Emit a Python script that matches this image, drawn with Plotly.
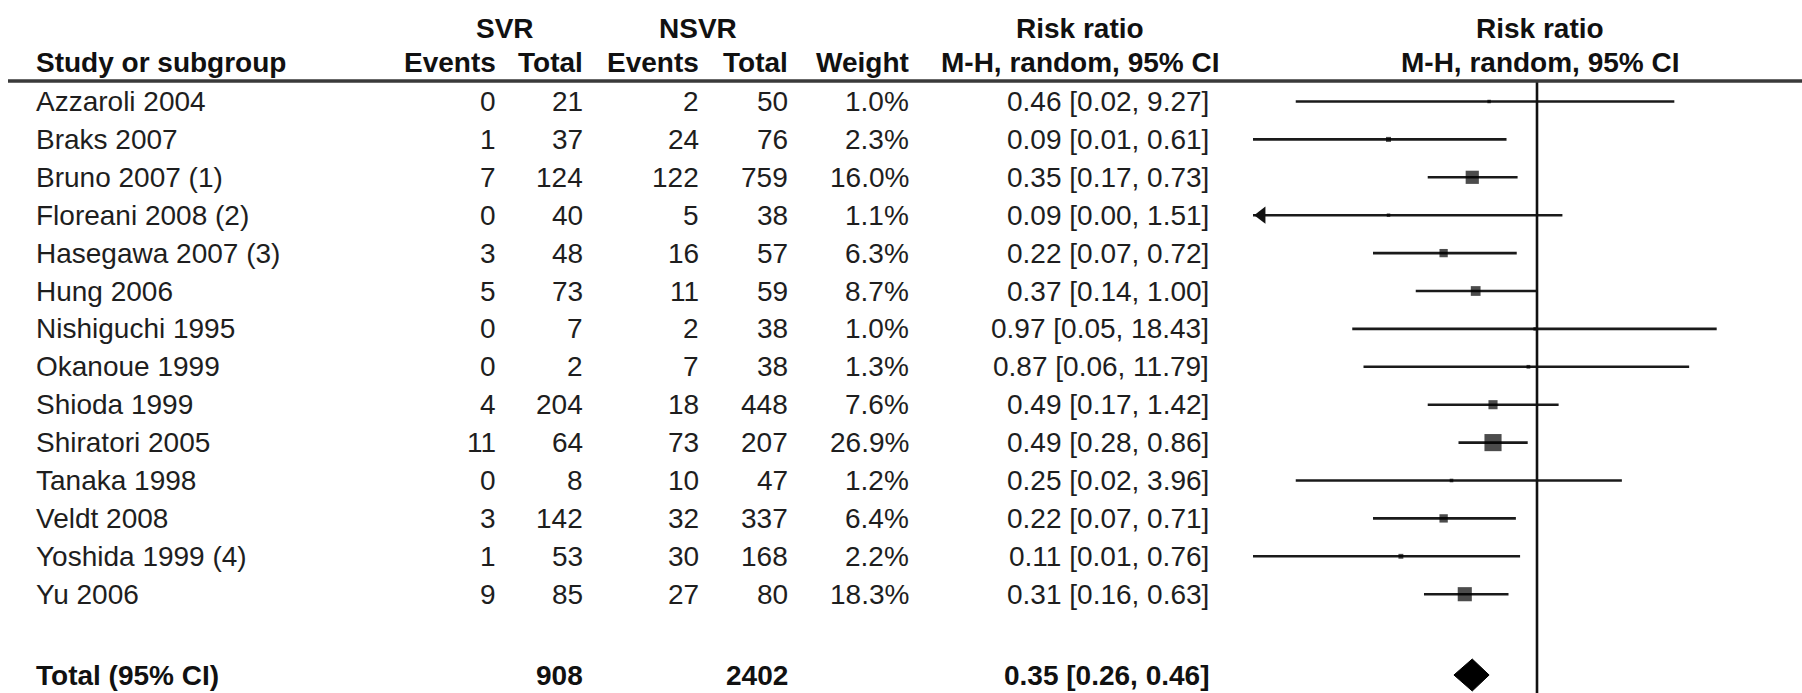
import numpy as np
import plotly.graph_objects as go

# ---- data -------------------------------------------------------------
studies = ["Azzaroli 2004", "Braks 2007", "Bruno 2007 (1)", "Floreani 2008 (2)",
           "Hasegawa 2007 (3)", "Hung 2006", "Nishiguchi 1995", "Okanoue 1999",
           "Shioda 1999", "Shiratori 2005", "Tanaka 1998", "Veldt 2008",
           "Yoshida 1999 (4)", "Yu 2006"]
svr_events = [0, 1, 7, 0, 3, 5, 0, 0, 4, 11, 0, 3, 1, 9]
svr_total = [21, 37, 124, 40, 48, 73, 7, 2, 204, 64, 8, 142, 53, 85]
nsvr_events = [2, 24, 122, 5, 16, 11, 2, 7, 18, 73, 10, 32, 30, 27]
nsvr_total = [50, 76, 759, 38, 57, 59, 38, 38, 448, 207, 47, 337, 168, 80]
weight = [1.0, 2.3, 16.0, 1.1, 6.3, 8.7, 1.0, 1.3, 7.6, 26.9, 1.2, 6.4, 2.2, 18.3]
rr = [0.46, 0.09, 0.35, 0.09, 0.22, 0.37, 0.97, 0.87, 0.49, 0.49, 0.25, 0.22, 0.11, 0.31]
ci_lo = [0.02, 0.01, 0.17, 0.00, 0.07, 0.14, 0.05, 0.06, 0.17, 0.28, 0.02, 0.07, 0.01, 0.16]
ci_hi = [9.27, 0.61, 0.73, 1.51, 0.72, 1.00, 18.43, 11.79, 1.42, 0.86, 3.96, 0.71, 0.76, 0.63]

total_label = "Total (95% CI)"
total_svr = 908
total_nsvr = 2402
total_rr = 0.35
total_lo = 0.26
total_hi = 0.46

axis_min = 0.01          # left end of the risk-ratio scale

# ---- layout constants (pixels) -----------------------------------------
W, H = 1802, 693
ROW0, ROW_H = 101.5, 37.9
TOTAL_Y = 675
HEAD1_Y, HEAD2_Y, RULE_Y = 28, 62, 81
FOREST_LEFT, NULL_X = 1253, 1537
PX_PER_DECADE = (NULL_X - FOREST_LEFT) / 2.0
FONT = "Liberation Sans, Arial, Helvetica, sans-serif"
FS = 28
TXT = "#1e1e1e"

COL_STUDY = 34
COL_SVR_EV, COL_SVR_TOT = 498, 585
COL_NSVR_EV, COL_NSVR_TOT = 701, 790
COL_WEIGHT = 911
COL_RR = 1211
COL_RR_HEAD = 1080
COL_FOREST_HEAD = 1540

ARROW_SIZE = 15
# plotly's triangle-left tip sits 2/sqrt(3) * radius left of the marker centre
ARROW_TIP_PX = ARROW_SIZE / 2 * 2 / np.sqrt(3)

rows_y = [ROW0 + ROW_H * i for i in range(len(studies))]

fig = go.Figure()

# ---- forest plot (log axis x2) -----------------------------------------
ci_x, ci_y = [], []
for lo, hi, y in zip(ci_lo, ci_hi, rows_y):
    ci_x += [max(lo, axis_min), hi, None]
    ci_y += [y, y, None]
fig.add_trace(go.Scatter(x=ci_x, y=ci_y, mode="lines", xaxis="x2", yaxis="y",
                         line=dict(color="#1a1a1a", width=2.6), hoverinfo="skip"))

# arrows for intervals running past the left end of the scale
arr_y = [y for lo, y in zip(ci_lo, rows_y) if lo < axis_min]
arr_x = axis_min * 10 ** (ARROW_TIP_PX / PX_PER_DECADE)
fig.add_trace(go.Scatter(x=[arr_x] * len(arr_y), y=arr_y, mode="markers",
                         xaxis="x2", yaxis="y", cliponaxis=False,
                         marker=dict(symbol="triangle-left", size=ARROW_SIZE, color="#111",
                                     line=dict(width=0)),
                         hoverinfo="skip"))

# point estimates, box side proportional to sqrt(weight)
fig.add_trace(go.Scatter(x=rr, y=rows_y, mode="markers", xaxis="x2", yaxis="y",
                         marker=dict(symbol="square", color="#000",
                                     size=[max(3.5, 3.3 * np.sqrt(w)) for w in weight],
                                     line=dict(width=0)),
                         hoverinfo="skip"))

# line of no effect
fig.add_trace(go.Scatter(x=[1, 1], y=[RULE_Y, H + 5], mode="lines", xaxis="x2", yaxis="y",
                         line=dict(color="#111", width=2.6), hoverinfo="skip"))

# pooled estimate diamond
DH = 16
fig.add_trace(go.Scatter(x=[total_lo, total_rr, total_hi, total_rr, total_lo],
                         y=[TOTAL_Y, TOTAL_Y - DH, TOTAL_Y, TOTAL_Y + DH, TOTAL_Y],
                         mode="lines", fill="toself", fillcolor="#000",
                         line=dict(color="#000", width=1), xaxis="x2", yaxis="y",
                         hoverinfo="skip"))

# ---- table text ----------------------------------------------------------
ann = []


def txt(x, y, s, anchor="left", bold=False, color=TXT):
    ann.append(dict(x=x, y=y, xref="x", yref="y", text=f"<b>{s}</b>" if bold else s,
                    showarrow=False, xanchor=anchor, yanchor="middle",
                    font=dict(family=FONT, size=FS, color="#111" if bold else color)))


# headers
txt(505, HEAD1_Y, "SVR", "center", True)
txt(698, HEAD1_Y, "NSVR", "center", True)
txt(COL_RR_HEAD, HEAD1_Y, "Risk ratio", "center", True)
txt(COL_FOREST_HEAD, HEAD1_Y, "Risk ratio", "center", True)
txt(COL_STUDY, HEAD2_Y, "Study or subgroup", "left", True)
txt(COL_SVR_EV, HEAD2_Y, "Events", "right", True)
txt(COL_SVR_TOT, HEAD2_Y, "Total", "right", True)
txt(COL_NSVR_EV, HEAD2_Y, "Events", "right", True)
txt(COL_NSVR_TOT, HEAD2_Y, "Total", "right", True)
txt(COL_WEIGHT, HEAD2_Y, "Weight", "right", True)
txt(COL_RR_HEAD, HEAD2_Y, "M-H, random, 95% CI", "center", True)
txt(COL_FOREST_HEAD, HEAD2_Y, "M-H, random, 95% CI", "center", True)

# study rows
for i, y in enumerate(rows_y):
    txt(COL_STUDY, y, studies[i])
    txt(COL_SVR_EV, y, str(svr_events[i]), "right")
    txt(COL_SVR_TOT, y, str(svr_total[i]), "right")
    txt(COL_NSVR_EV, y, str(nsvr_events[i]), "right")
    txt(COL_NSVR_TOT, y, str(nsvr_total[i]), "right")
    txt(COL_WEIGHT, y, f"{weight[i]:.1f}%", "right")
    txt(COL_RR, y, f"{rr[i]:.2f} [{ci_lo[i]:.2f}, {ci_hi[i]:.2f}]", "right")

# pooled row
txt(COL_STUDY, TOTAL_Y, total_label, "left", True)
txt(COL_SVR_TOT, TOTAL_Y, str(total_svr), "right", True)
txt(COL_NSVR_TOT, TOTAL_Y, str(total_nsvr), "right", True)
txt(COL_RR, TOTAL_Y, f"{total_rr:.2f} [{total_lo:.2f}, {total_hi:.2f}]", "right", True)

fig.update_layout(
    width=W, height=H,
    margin=dict(l=0, r=0, t=0, b=0),
    paper_bgcolor="white", plot_bgcolor="white",
    showlegend=False,
    annotations=ann,
    shapes=[dict(type="line", xref="x", yref="y", x0=8, x1=W, y0=RULE_Y, y1=RULE_Y,
                 line=dict(color="#3a3a3a", width=3.5))],
    xaxis=dict(range=[0, W], domain=[0, 1], visible=False, fixedrange=True),
    xaxis2=dict(type="log", domain=[FOREST_LEFT / W, 1], anchor="y",
                range=[np.log10(axis_min), np.log10(axis_min) + (W - FOREST_LEFT) / PX_PER_DECADE],
                visible=False, fixedrange=True),
    yaxis=dict(range=[H, 0], domain=[0, 1], visible=False, fixedrange=True),
)

fig.write_html("out.html")
